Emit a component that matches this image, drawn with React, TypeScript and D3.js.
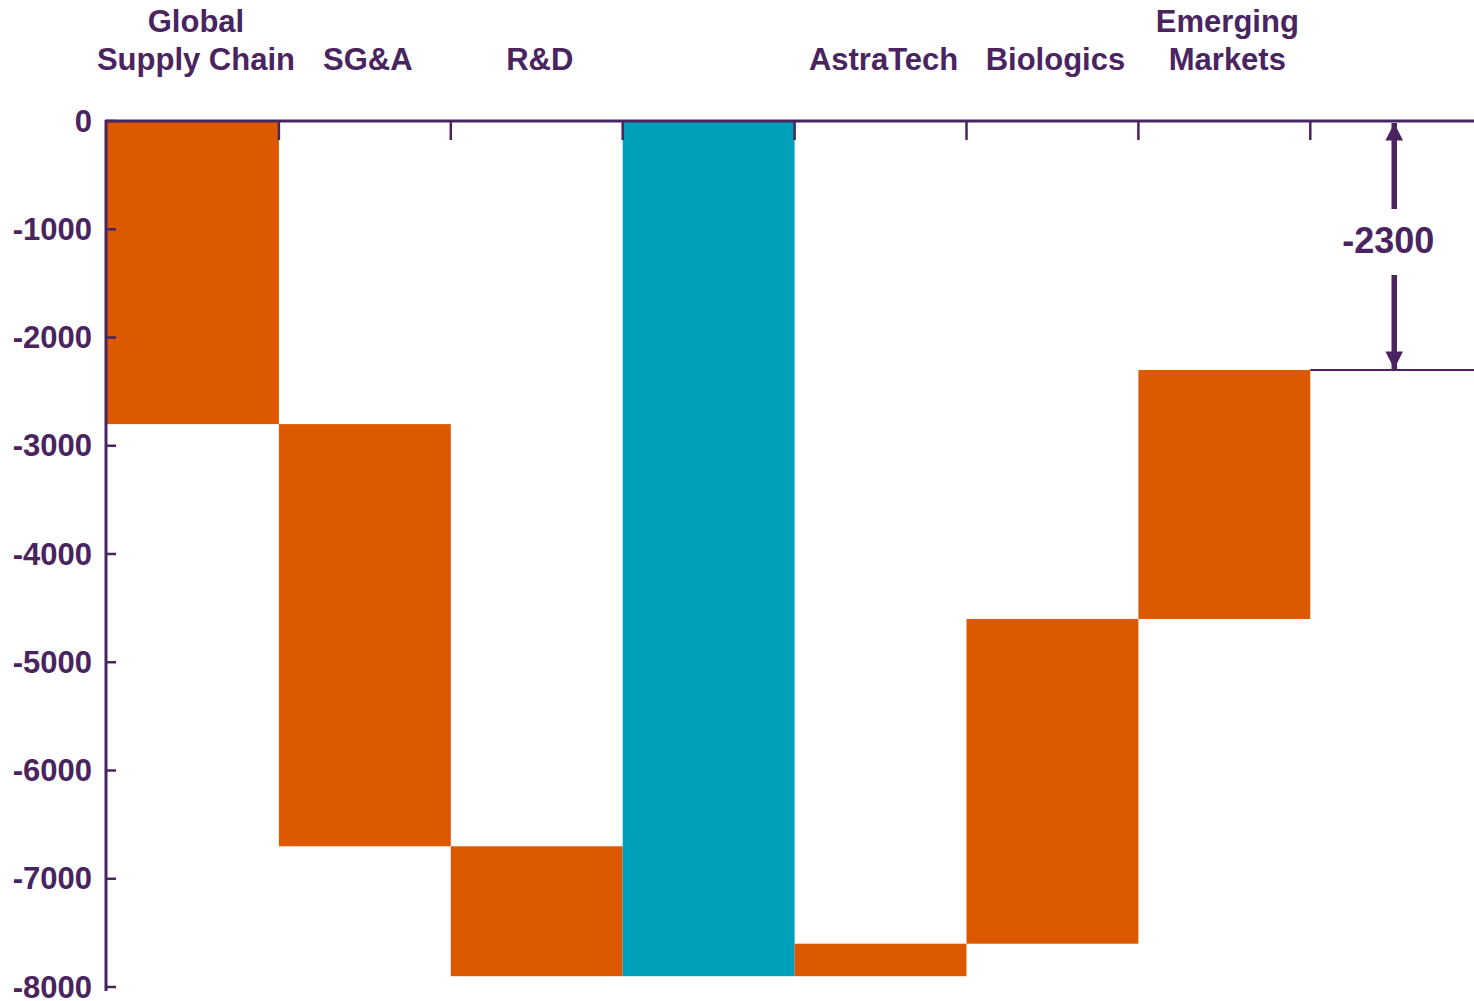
import React from "react";
import * as d3 from "d3";

// Cost-saving waterfall: each category's change, plus a total column
const categories = ["Global Supply Chain", "SG&A", "R&D", "Total", "AstraTech", "Biologics", "Emerging Markets"];
const labelLines = [["Global", "Supply Chain"], ["SG&A"], ["R&D"], [], ["AstraTech"], ["Biologics"], ["Emerging", "Markets"]];
const deltas = [-2800, -3900, -1200, 0, 300, 3000, 2300];
const isTotal = [false, false, false, true, false, false, false];
const yTicks = [0, -1000, -2000, -3000, -4000, -5000, -6000, -7000, -8000];
const netLabel = "-2300";

const W = 1474;
const H = 1001;
const PURPLE = "#4a245f";
const ORANGE = "#dc5900";
const TEAL = "#00a0bd";
const FONT = "'Liberation Sans', Arial, sans-serif";

export default function App() {
  // slot for the net-change annotation after the last category
  const slots = [...categories, "net"];
  const x = d3.scaleBand<string>().domain(slots).range([107, 107 + 8 * 171.9]).padding(0);
  const y = d3.scaleLinear().domain([-8000, 0]).range([987, 121]);

  // waterfall spans
  let run = 0;
  const spans = categories.map((c, i) => {
    if (isTotal[i]) return { c, from: 0, to: run, total: true };
    const from = run;
    run += deltas[i];
    return { c, from, to: run, total: false };
  });
  const finalValue = run;

  const bw = x.bandwidth();
  const netX = (x("net") as number) + bw / 2 - 2;
  const y0 = y(0);
  const yNet = y(finalValue);
  const midY = y(+netLabel / 2) - 5;

  const boundaries = categories.map((c) => (x(c) as number) + bw).concat([]);

  return (
    <svg width={W} height={H} style={{ position: "absolute", left: 0, top: 0, background: "#fff" }} fontFamily={FONT} fontWeight="bold">
      <defs>
        <marker id="ah" viewBox="0 0 10 10" refX="10" refY="5" markerWidth="3.2" markerHeight="3.2" orient="auto" markerUnits="strokeWidth">
          <path d="M0,0 L10,5 L0,10 Z" fill={PURPLE} />
        </marker>
      </defs>

      {spans.map((s, i) => (
        <rect
          key={s.c}
          x={x(s.c) as number}
          width={bw}
          y={y(Math.max(s.from, s.to))}
          height={Math.abs(y(s.from) - y(s.to))}
          fill={s.total ? TEAL : ORANGE}
        />
      ))}

      {/* category axis along zero */}
      <line x1={105} x2={W} y1={y0} y2={y0} stroke={PURPLE} strokeWidth={3} />
      {boundaries.map((bx, i) => (
        <line key={i} x1={bx} x2={bx} y1={y0} y2={y0 + 19} stroke={PURPLE} strokeWidth={2.5} />
      ))}

      {/* value axis */}
      <line x1={106} x2={106} y1={y0 - 1} y2={991} stroke={PURPLE} strokeWidth={3} />
      {yTicks.map((t) => (
        <g key={t}>
          <line x1={106} x2={116} y1={y(t)} y2={y(t)} stroke={PURPLE} strokeWidth={2.5} />
          <text x={92} y={y(t)} textAnchor="end" dominantBaseline="central" fontSize={31} fill={PURPLE}>
            {t}
          </text>
        </g>
      ))}

      {/* category labels */}
      {categories.map((c, i) => {
        const lines = labelLines[i];
        const cx = (x(c) as number) + bw / 2 + 3;
        return (
          <text key={c} x={cx} textAnchor="middle" fontSize={31} fill={PURPLE}>
            {lines.map((ln, j) => (
              <tspan key={j} x={cx} y={70 - (lines.length - 1 - j) * 38}>
                {ln}
              </tspan>
            ))}
          </text>
        );
      })}

      {/* net change annotation */}
      <line x1={x("net") as number} x2={W} y1={yNet} y2={yNet} stroke={PURPLE} strokeWidth={2} />
      <line x1={netX} x2={netX} y1={209} y2={y0 + 2} stroke={PURPLE} strokeWidth={5.5} markerEnd="url(#ah)" />
      <line x1={netX} x2={netX} y1={275} y2={yNet - 1} stroke={PURPLE} strokeWidth={5.5} markerEnd="url(#ah)" />
      <text x={netX - 6} y={midY} textAnchor="middle" dominantBaseline="central" fontSize={36} fill={PURPLE}>
        {netLabel}
      </text>
    </svg>
  );
}
